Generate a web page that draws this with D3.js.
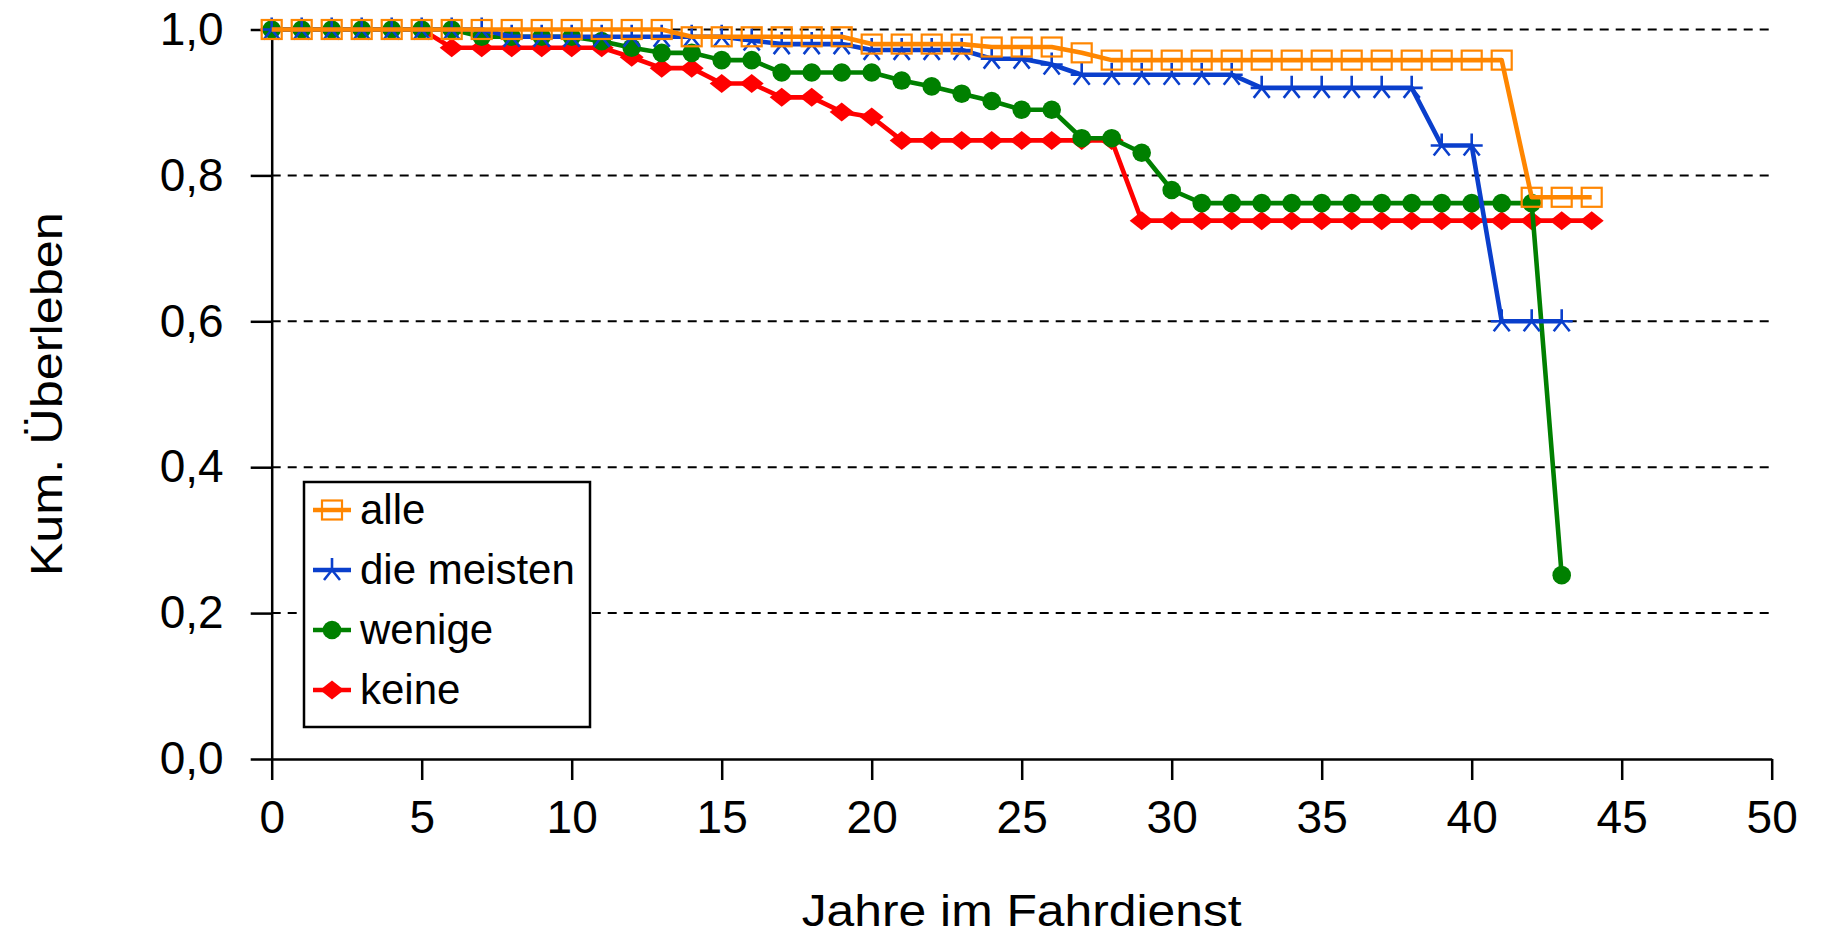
<!DOCTYPE html>
<html>
<head>
<meta charset="utf-8">
<script src="https://cdn.jsdelivr.net/npm/d3@7"></script>
<style>
  html, body { margin: 0; padding: 0; background: #fff; overflow: hidden; }
  text { font-family: "Liberation Sans", Arial, sans-serif; fill: #000; }
</style>
</head>
<body>
<svg id="chart" width="1821" height="936"></svg>
<script>
// Kaplan-Meier style survival by group, one value per year of service (starting at year 0)
const seriesNames = ["alle", "die meisten", "wenige", "keine"];
const alle = [1, 1, 1, 1, 1, 1, 1, 1, 1, 1, 1, 1, 1, 1,
  0.99, 0.99, 0.99, 0.99, 0.99, 0.99,
  0.98, 0.98, 0.98, 0.98, 0.976, 0.976, 0.976,
  0.968,
  0.958, 0.958, 0.958, 0.958, 0.958, 0.958, 0.958, 0.958, 0.958, 0.958, 0.958, 0.958, 0.958, 0.958,
  0.77, 0.77, 0.77];
const dieMeisten = [1, 1, 1, 1, 1, 1, 1, 1,
  0.99, 0.99, 0.99, 0.99, 0.99, 0.99, 0.99, 0.99,
  0.985, 0.98, 0.98, 0.98,
  0.972, 0.972, 0.972, 0.972,
  0.96, 0.96, 0.952,
  0.938, 0.938, 0.938, 0.938, 0.938, 0.938,
  0.92, 0.92, 0.92, 0.92, 0.92, 0.92,
  0.841, 0.841,
  0.60, 0.60, 0.60];
const wenige = [1, 1, 1, 1, 1, 1, 1,
  0.99, 0.99, 0.99, 0.99,
  0.984, 0.975, 0.968, 0.968, 0.958, 0.958,
  0.941, 0.941, 0.941, 0.941,
  0.93, 0.922, 0.912, 0.902, 0.89, 0.89,
  0.851, 0.851, 0.831, 0.78,
  0.762, 0.762, 0.762, 0.762, 0.762, 0.762, 0.762, 0.762, 0.762, 0.762, 0.762, 0.762,
  0.252];
const keine = [1, 1, 1, 1, 1, 1,
  0.975, 0.975, 0.975, 0.975, 0.975, 0.975,
  0.962, 0.947, 0.947, 0.926, 0.926, 0.907, 0.907, 0.887, 0.88,
  0.848, 0.848, 0.848, 0.848, 0.848, 0.848, 0.848, 0.848,
  0.738, 0.738, 0.738, 0.738, 0.738, 0.738, 0.738, 0.738, 0.738, 0.738, 0.738, 0.738, 0.738, 0.738, 0.738, 0.738];

const xTicks = [0, 5, 10, 15, 20, 25, 30, 35, 40, 45, 50];
const yTicks = [0, 0.2, 0.4, 0.6, 0.8, 1.0];
const xTitle = "Jahre im Fahrdienst";
const yTitle = "Kum. Überleben";

const series = [
  { name: seriesNames[0], values: alle,       color: "#ff8600", marker: "square" },
  { name: seriesNames[1], values: dieMeisten, color: "#0a3fcc", marker: "star" },
  { name: seriesNames[2], values: wenige,     color: "#008000", marker: "circle" },
  { name: seriesNames[3], values: keine,      color: "#ff0000", marker: "diamond" }
];

const svg = d3.select("#chart");
const x = d3.scaleLinear().domain([0, 50]).range([271.7, 1771.7]);
const y = d3.scaleLinear().domain([0, 1]).range([759, 29.5]);

const deLocale = d3.formatLocale({ decimal: ",", thousands: ".", grouping: [3], currency: ["", " €"] });
const yFmt = deLocale.format(".1f");

// dashed horizontal gridlines
svg.append("g").selectAll("line")
  .data(yTicks.filter(t => t > 0))
  .join("line")
  .attr("x1", x(0)).attr("x2", x(50))
  .attr("y1", d => y(d)).attr("y2", d => y(d))
  .attr("stroke", "#000").attr("stroke-width", 2)
  .attr("stroke-dasharray", "9,7");

// axes
const yAxis = svg.append("g")
  .attr("transform", `translate(${x(0)},0)`)
  .call(d3.axisLeft(y).tickValues(yTicks).tickFormat(yFmt).tickSize(21).tickSizeOuter(0).tickPadding(27));
const xAxis = svg.append("g")
  .attr("transform", `translate(0,${y(0)})`)
  .call(d3.axisBottom(x).tickValues(xTicks).tickFormat(d3.format("d")).tickSize(21).tickSizeOuter(0).tickPadding(20));

[yAxis, xAxis].forEach(ax => {
  ax.select(".domain").attr("stroke", "#000").attr("stroke-width", 2.5);
  ax.selectAll(".tick line").attr("stroke", "#000").attr("stroke-width", 2.5);
  ax.selectAll(".tick text")
    .attr("font-family", "Liberation Sans, Arial, sans-serif")
    .attr("font-size", 46).attr("fill", "#000");
});

// marker shapes
function drawMarker(g, type, color) {
  if (type === "square") {
    g.append("rect").attr("x", -10).attr("y", -9.5).attr("width", 20).attr("height", 19)
      .attr("fill", "none").attr("stroke", color).attr("stroke-width", 2.2);
  } else if (type === "star") {
    g.append("path")
      .attr("d", "M0,-12 L0,0 M-8,10 L0,0 L8,10 M-11,0 L11,0")
      .attr("fill", "none").attr("stroke", color).attr("stroke-width", 2.6);
  } else if (type === "circle") {
    g.append("circle").attr("r", 9.3).attr("fill", color);
  } else if (type === "diamond") {
    g.append("path").attr("d", "M-12,0 L0,-9.5 L12,0 L0,9.5 Z").attr("fill", color);
  }
}

const line = d3.line().x((d, i) => x(i)).y(d => y(d));

// draw bottom-most group first
const plot = svg.append("g");
series.slice().reverse().forEach(s => {
  const g = plot.append("g");
  g.append("path").datum(s.values)
    .attr("d", line)
    .attr("fill", "none").attr("stroke", s.color)
    .attr("stroke-width", 4.6).attr("stroke-linejoin", "round");
  g.selectAll("g.m").data(s.values).join("g")
    .attr("class", "m")
    .attr("transform", (d, i) => `translate(${x(i)},${y(d)})`)
    .each(function () { drawMarker(d3.select(this), s.marker, s.color); });
});

// legend
const lg = svg.append("g");
lg.append("rect").attr("x", 304).attr("y", 482).attr("width", 286).attr("height", 245)
  .attr("fill", "#fff").attr("stroke", "#000").attr("stroke-width", 2.5);
series.forEach((s, i) => {
  const cy = 510 + i * 60;
  const e = lg.append("g").attr("transform", `translate(0,${cy})`);
  e.append("line").attr("x1", 313).attr("x2", 351).attr("y1", 0).attr("y2", 0)
    .attr("stroke", s.color).attr("stroke-width", 4.6);
  drawMarker(e.append("g").attr("transform", "translate(332,0)"), s.marker, s.color);
  e.append("text").attr("x", 360).attr("y", 14)
    .attr("font-size", 42).text(s.name);
});

// axis titles
svg.append("text")
  .attr("x", (x(0) + x(50)) / 2).attr("y", 926)
  .attr("text-anchor", "middle").attr("font-size", 44)
  .attr("textLength", 440).attr("lengthAdjust", "spacingAndGlyphs")
  .text(xTitle);
svg.append("text")
  .attr("transform", `translate(62,${(y(0) + y(1)) / 2}) rotate(-90)`)
  .attr("text-anchor", "middle").attr("font-size", 44)
  .attr("textLength", 364).attr("lengthAdjust", "spacingAndGlyphs")
  .text(yTitle);
</script>
</body>
</html>
